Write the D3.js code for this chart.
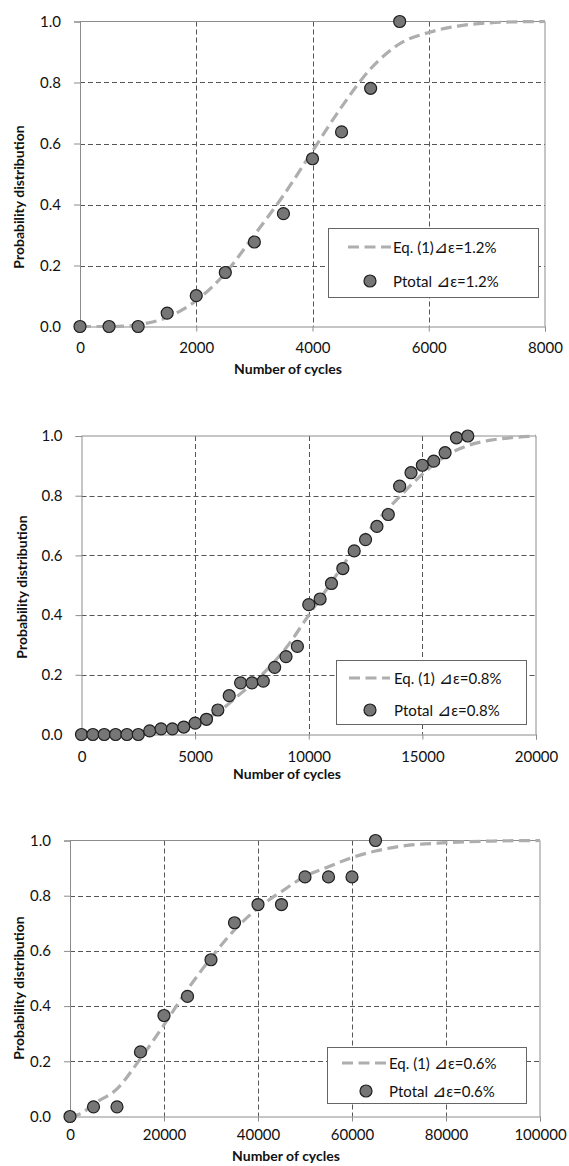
<!DOCTYPE html>
<html>
<head>
<meta charset="utf-8">
<script src="https://cdn.jsdelivr.net/npm/d3@7"></script>
<style>
  body { margin: 0; background: #fff; }
  text { font-family: Lato, "Open Sans", sans-serif; fill: #111; }
  .tri { font-family: "DejaVu Sans", sans-serif; }
</style>
</head>
<body>
<div id="wrapper"></div>
<script>
// 1. Data

// panel 1: strain amplitude 1.2%
const cycles12 = [0, 500, 1000, 1500, 2000, 2500, 3000, 3500, 4000, 4500, 5000, 5500];
const ptotal12 = [0, 0, 0, 0.044, 0.101, 0.177, 0.277, 0.37, 0.55, 0.638, 0.781, 1.0];
const curveX12 = [0, 500, 750, 1000, 1500, 2000, 2500, 3000, 3500, 4000, 4500, 5000, 5500, 6000, 6500, 7000, 7500, 8000];
const curveY12 = [0, 0, 0.001, 0.006, 0.03, 0.085, 0.175, 0.3, 0.43, 0.575, 0.72, 0.845, 0.927, 0.964, 0.985, 0.995, 0.999, 1.0];

// panel 2: strain amplitude 0.8%
const cycles08 = [0, 500, 1000, 1500, 2000, 2500, 3000, 3500, 4000, 4500, 5000, 5500,
  6000, 6500, 7000, 7500, 8000, 8500, 9000, 9500, 10000, 10500, 11000, 11500,
  12000, 12500, 13000, 13500, 14000, 14500, 15000, 15500, 16000, 16500, 17000];
const ptotal08 = [0, 0, 0, 0, 0, 0, 0.012, 0.019, 0.019, 0.025, 0.038, 0.051,
  0.082, 0.13, 0.173, 0.173, 0.179, 0.225, 0.261, 0.295, 0.435, 0.454, 0.506, 0.556,
  0.615, 0.653, 0.697, 0.737, 0.832, 0.877, 0.902, 0.916, 0.944, 0.994, 1.0];
const curveX08 = [0, 2000, 3000, 4000, 5000, 6000, 7000, 8000, 9000, 10000, 11000, 12000,
  13000, 14000, 15000, 16000, 17000, 18000, 19000, 20000];
const curveY08 = [0, 0.003, 0.008, 0.018, 0.038, 0.075, 0.137, 0.205, 0.29, 0.4, 0.51, 0.62,
  0.715, 0.797, 0.872, 0.932, 0.968, 0.986, 0.995, 1.0];

// panel 3: strain amplitude 0.6%
const cycles06 = [0, 5000, 10000, 15000, 20000, 25000, 30000, 35000, 40000, 45000, 50000, 55000, 60000, 65000];
const ptotal06 = [0, 0.035, 0.035, 0.234, 0.366, 0.435, 0.568, 0.702, 0.768, 0.768, 0.868, 0.868, 0.868, 1.0];
const curveX06 = [0, 2500, 5000, 10000, 15000, 20000, 25000, 30000, 35000, 40000, 45000, 50000,
  55000, 60000, 65000, 70000, 80000, 90000, 100000];
const curveY06 = [0, 0.012, 0.045, 0.1, 0.21, 0.332, 0.46, 0.574, 0.676, 0.755, 0.815, 0.87,
  0.905, 0.938, 0.962, 0.978, 0.992, 0.998, 1.0];

const yTicks = [0, 0.2, 0.4, 0.6, 0.8, 1.0];

// 2. Dimensions

const width = 569;
const height = 1166;

const wrapper = d3
  .select("#wrapper")
  .append("svg")
  .attr("width", width)
  .attr("height", height);

const panels = [
  {
    cycles: cycles12, ptotal: ptotal12, curveX: curveX12, curveY: curveY12,
    xMax: 8000, xTicks: [0, 2000, 4000, 6000, 8000], label: "1.2%", eqGap: "",
    left: 80, right: 545, top: 21.5, bottom: 326.5,
    xPad: 11, yTitleX: 18, yTitleY: 197, xTitleX: 288, xTitleY: 374,
    legend: { x0: 328, x1: 538, y0: 228, y1: 297, row1: 247, row2: 281, lineX0: 348, lineX1: 391, dotX: 370, textX: 393 },
  },
  {
    cycles: cycles08, ptotal: ptotal08, curveX: curveX08, curveY: curveY08,
    xMax: 20000, xTicks: [0, 5000, 10000, 15000, 20000], label: "0.8%", eqGap: " ",
    left: 81.5, right: 536, top: 436, bottom: 734.5,
    xPad: 12, yTitleX: 21, yTitleY: 587, xTitleX: 287, xTitleY: 779,
    legend: { x0: 336, x1: 526, y0: 660, y1: 724, row1: 678, row2: 710, lineX0: 349, lineX1: 390, dotX: 370, textX: 394 },
  },
  {
    cycles: cycles06, ptotal: ptotal06, curveX: curveX06, curveY: curveY06,
    xMax: 100000, xTicks: [0, 20000, 40000, 60000, 80000, 100000], label: "0.6%", eqGap: " ",
    left: 70, right: 540, top: 840.5, bottom: 1116.5,
    xPad: 8, yTitleX: 18.5, yTitleY: 988, xTitleX: 286, xTitleY: 1161,
    legend: { x0: 327, x1: 526, y0: 1047, y1: 1103, row1: 1063, row2: 1091, lineX0: 342, lineX1: 386, dotX: 366, textX: 389 },
  },
];

const gridColor = "#555";
const frameColor = "#8c8c8c";
const curveColor = "#aeaeae";
const dotFill = "#767676";
const dotStroke = "#1e1e1e";
const tickFont = 15;
const titleFont = 14;

const drawPanel = (p) => {
  // 3. Scales

  const xScale = d3.scaleLinear().domain([0, p.xMax]).range([p.left, p.right]);
  const yScale = d3.scaleLinear().domain([0, 1]).range([p.bottom, p.top]);

  const g = wrapper.append("g");

  // 4. Gridlines (dashed)

  g.append("g")
    .selectAll("line")
    .data(yTicks.slice(1, -1))
    .join("line")
    .attr("x1", p.left)
    .attr("x2", p.right)
    .attr("y1", (d) => Math.round(yScale(d)) + 0.5)
    .attr("y2", (d) => Math.round(yScale(d)) + 0.5)
    .attr("stroke", gridColor)
    .attr("stroke-dasharray", "5,3");

  g.append("g")
    .selectAll("line")
    .data(p.xTicks.slice(1, -1))
    .join("line")
    .attr("x1", (d) => Math.round(xScale(d)) + 0.5)
    .attr("x2", (d) => Math.round(xScale(d)) + 0.5)
    .attr("y1", p.top)
    .attr("y2", p.bottom)
    .attr("stroke", gridColor)
    .attr("stroke-dasharray", "5,3");

  // frame: top and right
  g.append("path")
    .attr("d", `M${p.left},${p.top}H${p.right}V${p.bottom}`)
    .attr("fill", "none")
    .attr("stroke", frameColor);

  // 5. Axes

  const xAxis = g
    .append("g")
    .attr("transform", `translate(0,${p.bottom})`)
    .call(d3.axisBottom(xScale).tickValues(p.xTicks).tickSize(5).tickPadding(p.xPad).tickFormat(d3.format("d")));
  xAxis.select(".domain").attr("stroke", frameColor);
  xAxis.selectAll(".tick line").attr("stroke", frameColor);
  xAxis.selectAll(".tick text").attr("font-size", tickFont).attr("fill", "#111");

  const yAxis = g
    .append("g")
    .attr("transform", `translate(${p.left},0)`)
    .call(d3.axisLeft(yScale).tickValues(yTicks).tickSize(6).tickPadding(13).tickFormat(d3.format(".1f")));
  yAxis.select(".domain").attr("stroke", frameColor);
  yAxis.selectAll(".tick line").attr("stroke", frameColor);
  yAxis.selectAll(".tick text").attr("font-size", tickFont).attr("fill", "#111");

  // axis titles
  g.append("text")
    .attr("x", p.xTitleX)
    .attr("y", p.xTitleY)
    .attr("text-anchor", "middle")
    .attr("font-size", titleFont)
    .attr("font-weight", "bold")
    .text("Number of cycles");

  g.append("text")
    .attr("transform", `translate(${p.yTitleX},${p.yTitleY}) rotate(-90)`)
    .attr("text-anchor", "middle")
    .attr("dominant-baseline", "central")
    .attr("font-size", titleFont)
    .attr("font-weight", "bold")
    .text("Probability distribution");

  // 6. Data: fitted curve then points

  const curvePoints = p.curveX.map((x, i) => [x, p.curveY[i]]);
  const lineGenerator = d3
    .line()
    .x((d) => xScale(d[0]))
    .y((d) => yScale(d[1]))
    .curve(d3.curveMonotoneX);

  g.append("path")
    .datum(curvePoints)
    .attr("d", lineGenerator)
    .attr("fill", "none")
    .attr("stroke", curveColor)
    .attr("stroke-width", 3.2)
    .attr("stroke-dasharray", "11,5.5");

  g.append("g")
    .selectAll("circle")
    .data(p.cycles.map((x, i) => [x, p.ptotal[i]]))
    .join("circle")
    .attr("cx", (d) => xScale(d[0]))
    .attr("cy", (d) => yScale(d[1]))
    .attr("r", 6)
    .attr("fill", dotFill)
    .attr("stroke", dotStroke)
    .attr("stroke-width", 1.2);

  // 7. Legend

  const L = p.legend;
  const legend = g.append("g");
  legend.append("rect")
    .attr("x", L.x0 + 0.5)
    .attr("y", L.y0 + 0.5)
    .attr("width", L.x1 - L.x0)
    .attr("height", L.y1 - L.y0)
    .attr("fill", "#fff")
    .attr("stroke", "#666");

  legend.append("line")
    .attr("x1", L.lineX0)
    .attr("x2", L.lineX1)
    .attr("y1", L.row1)
    .attr("y2", L.row1)
    .attr("stroke", curveColor)
    .attr("stroke-width", 3.2)
    .attr("stroke-dasharray", "11,5.5");

  const t1 = legend.append("text")
    .attr("x", L.textX)
    .attr("y", L.row1)
    .attr("dominant-baseline", "central")
    .attr("font-size", tickFont);
  t1.append("tspan").text(`Eq. (1)${p.eqGap}`);
  t1.append("tspan").attr("class", "tri").attr("font-size", 17).text("\u22BF");
  t1.append("tspan").text(`\u03B5=${p.label}`);

  legend.append("circle")
    .attr("cx", L.dotX)
    .attr("cy", L.row2)
    .attr("r", 6)
    .attr("fill", dotFill)
    .attr("stroke", dotStroke)
    .attr("stroke-width", 1.2);

  const t2 = legend.append("text")
    .attr("x", L.textX)
    .attr("y", L.row2)
    .attr("dominant-baseline", "central")
    .attr("font-size", tickFont);
  t2.append("tspan").text("Ptotal ");
  t2.append("tspan").attr("class", "tri").attr("font-size", 17).text("\u22BF");
  t2.append("tspan").text(`\u03B5=${p.label}`);
};

panels.forEach(drawPanel);
</script>
</body>
</html>
